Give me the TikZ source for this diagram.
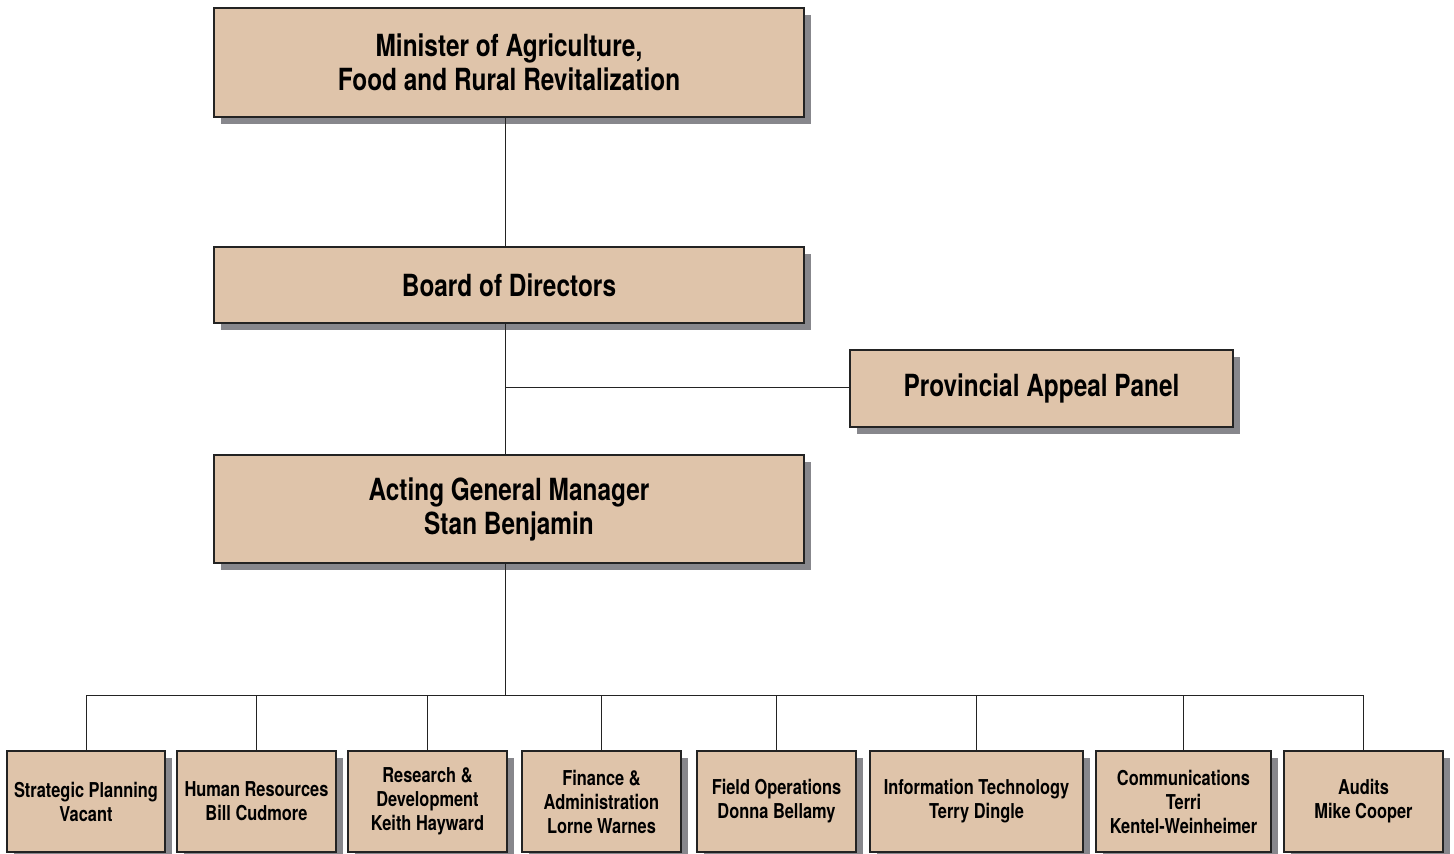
\documentclass[tikz,border=0pt]{standalone}
\usepackage{fontspec}
\setmainfont{TeX Gyre Heros}[FakeStretch=0.8]
\usetikzlibrary{shadows}
\definecolor{boxtan}{RGB}{223,196,170}
\definecolor{shadowgrey}{RGB}{135,135,140}
\definecolor{edgedark}{RGB}{35,35,35}

\begin{document}
\begin{tikzpicture}
  [
    x                   = 1pt,
    y                   = -1pt,
    orgbox/.style       = {draw=edgedark, line width=1.2pt, fill=boxtan,
                           inner sep=0pt, align=center, font=\bfseries,
                           drop shadow={shadow xshift=7pt, shadow yshift=-7pt,
                                        fill=shadowgrey, opacity=1}},
    bigbox/.style       = {orgbox, minimum width=590pt,
                           font=\fontsize{30.5}{34}\bfseries\selectfont},
    unitbox/.style      = {orgbox, minimum height=101pt,
                           font=\fontsize{20.5}{24}\bfseries\selectfont},
    link/.style         = {draw=edgedark, line width=1pt}
  ]
  \useasboundingbox (0,0) rectangle (1454,854);

  % upper chain
  \node[bigbox, minimum height=109pt] (minister) at (509,62.5)
    {Minister of Agriculture,\\Food and Rural Revitalization};
  \node[bigbox, minimum height=76pt] (board) at (509,285) {Board of Directors};
  \node[bigbox, minimum height=108pt] (agm) at (509,509)
    {Acting General Manager\\Stan Benjamin};
  \node[bigbox, minimum width=383pt, minimum height=77pt] (appeal) at (1041.5,388.5)
    {Provincial Appeal Panel};

  % units
  \node[unitbox, minimum width=158pt] (strategic) at (86,801.5)
    {Strategic Planning\\Vacant};
  \node[unitbox, minimum width=159pt] (hr) at (256.5,801.5)
    {Human Resources\\Bill Cudmore};
  \node[unitbox, minimum width=159pt] (research) at (427.5,801.5)
    {Research \&\\Development\\Keith Hayward};
  \node[unitbox, minimum width=159pt] (finance) at (601.5,801.5)
    {Finance \&\\Administration\\Lorne Warnes};
  \node[unitbox, minimum width=159pt] (field) at (776.5,801.5)
    {Field Operations\\Donna Bellamy};
  \node[unitbox, minimum width=213pt] (infotech) at (976.5,801.5)
    {Information Technology\\Terry Dingle};
  \node[unitbox, minimum width=175pt] (comms) at (1183.5,801.5)
    {Communications\\Terri\\Kentel-Weinheimer};
  \node[unitbox, minimum width=159pt] (audits) at (1363.5,801.5)
    {Audits\\Mike Cooper};

  % connectors
  \coordinate (trunk) at (505,0);
  \coordinate (appealjoin) at (505,387);
  \coordinate (bus) at (505,695);
  \path[link] (minister.south -| trunk) -- (board.north -| trunk);
  \path[link] (board.south -| trunk) -- (agm.north -| trunk);
  \path[link] (appealjoin) -- (appealjoin -| appeal.west);
  \path[link] (agm.south -| trunk) -- (bus);
  \path[link] (bus -| strategic) -- (bus -| audits);
  \foreach \unit in {strategic, hr, research, finance, field, infotech, comms, audits}
    \path[link] (bus -| \unit) -- (\unit.north);
\end{tikzpicture}
\end{document}
